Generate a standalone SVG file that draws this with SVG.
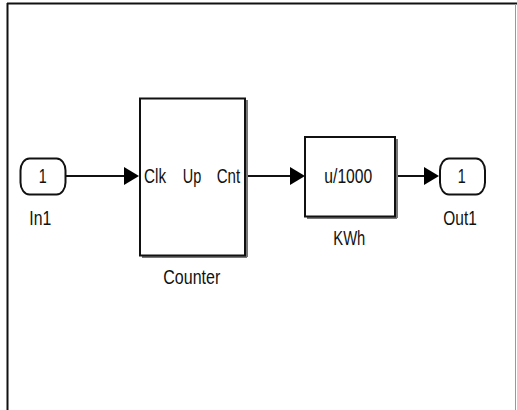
<svg xmlns="http://www.w3.org/2000/svg" width="517" height="410" viewBox="0 0 517 410">
<defs>
<style>
.t{font-family:"Liberation Sans",Arial,sans-serif;font-size:21px;fill:#111;}
.box{fill:#fff;stroke:#111;stroke-width:2;}
.shadow{fill:none;stroke:#777;stroke-width:2;}
.ln{stroke:#111;stroke-width:2;fill:none;}
.ah{fill:#000;}
</style>
</defs>
<rect width="517" height="410" fill="#fff"/>
<g id="frame">
<line x1="7" y1="3.5" x2="517" y2="3.5" stroke="#111" stroke-width="2"/>
<line x1="7.5" y1="3" x2="7.5" y2="410" stroke="#111" stroke-width="2"/>
<line x1="515.5" y1="4" x2="515.5" y2="410" stroke="#999" stroke-width="1"/>
</g>
<g id="connectors">
<line class="ln" x1="66" y1="176" x2="126" y2="176"/>
<polygon class="ah" points="124,167 139,176 124,185"/>
<line class="ln" x1="246" y1="176" x2="292" y2="176"/>
<polygon class="ah" points="290,167 305,176 290,185"/>
<line class="ln" x1="396" y1="176" x2="426" y2="176"/>
<polygon class="ah" points="424,167 439,176 424,185"/>
</g>
<g id="In1">
<rect class="box" x="20.5" y="158.5" width="45" height="36" rx="9" ry="12"/>
<text class="t" x="42.7" y="183" text-anchor="middle" textLength="8" lengthAdjust="spacingAndGlyphs">1</text>
<text class="t" x="29.3" y="225" textLength="22" lengthAdjust="spacingAndGlyphs">In1</text>
</g>
<g id="Counter">
<line class="shadow" x1="142" y1="257" x2="247" y2="257"/>
<line class="shadow" x1="247" y1="100" x2="247" y2="257"/>
<rect class="box" x="140" y="98.5" width="105" height="157"/>
<text class="t" x="144" y="183" textLength="22" lengthAdjust="spacingAndGlyphs">Clk</text>
<text class="t" x="182.7" y="183" textLength="18.5" lengthAdjust="spacingAndGlyphs">Up</text>
<text class="t" x="216.7" y="183" textLength="23.5" lengthAdjust="spacingAndGlyphs">Cnt</text>
<text class="t" x="163.3" y="284" textLength="57" lengthAdjust="spacingAndGlyphs">Counter</text>
</g>
<g id="KWh">
<line class="shadow" x1="307" y1="218" x2="397" y2="218"/>
<line class="shadow" x1="397" y1="139" x2="397" y2="218"/>
<rect class="box" x="305" y="137" width="90" height="79.5"/>
<text class="t" x="324.3" y="183" textLength="48" lengthAdjust="spacingAndGlyphs">u/1000</text>
<text class="t" x="333.3" y="245" textLength="32" lengthAdjust="spacingAndGlyphs">KWh</text>
</g>
<g id="Out1">
<rect class="box" x="440" y="158.5" width="45" height="36" rx="9" ry="12"/>
<text class="t" x="461.7" y="183" text-anchor="middle" textLength="8" lengthAdjust="spacingAndGlyphs">1</text>
<text class="t" x="443.3" y="225" textLength="33.5" lengthAdjust="spacingAndGlyphs">Out1</text>
</g>
</svg>
